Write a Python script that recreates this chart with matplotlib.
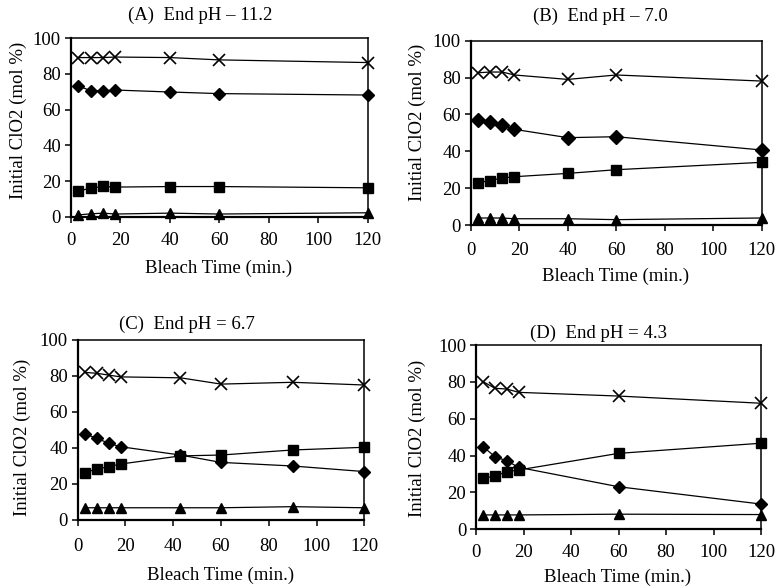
import matplotlib
matplotlib.use("Agg")
import matplotlib.pyplot as plt

plt.rcParams["font.family"] = ["Liberation Serif", "DejaVu Serif"]

# ---- data: ClO2 fate (mol % of initial ClO2) vs bleach time ----
time_a = [3, 8, 13, 18, 40, 60, 120]
cross_a = [89.2, 89.2, 89.2, 89.5, 89.2, 87.9, 86.4]
diamond_a = [73.3, 70.7, 70.5, 71.0, 69.9, 69.0, 68.2]
square_a = [14.4, 15.9, 17.0, 16.6, 16.9, 16.9, 16.2]
triangle_a = [1.0, 1.6, 2.0, 1.5, 2.0, 1.5, 2.2]

time_b = [3, 8, 13, 18, 40, 60, 120]
cross_b = [82.6, 83.0, 83.0, 81.4, 79.0, 81.4, 78.1]
diamond_b = [57.0, 56.1, 54.2, 51.9, 47.4, 47.9, 40.7]
square_b = [23.0, 24.1, 25.5, 26.2, 28.0, 30.0, 34.0]
triangle_b = [3.8, 3.8, 3.8, 3.4, 3.4, 2.9, 3.8]

time_c = [3, 8, 13, 18, 43, 60, 90, 120]
cross_c = [82.0, 81.5, 80.5, 79.5, 79.0, 75.5, 76.5, 75.0]
diamond_c = [47.8, 45.4, 42.6, 40.7, 36.1, 32.0, 30.0, 26.9]
square_c = [26.3, 28.3, 29.6, 31.1, 35.6, 36.1, 38.9, 40.4]
triangle_c = [6.8, 6.8, 6.8, 6.8, 6.8, 6.8, 7.4, 6.8]

time_d = [3, 8, 13, 18, 60, 120]
cross_d = [80.1, 76.5, 76.1, 74.3, 72.3, 68.4]
diamond_d = [44.8, 39.4, 37.1, 33.6, 23.1, 13.7]
square_d = [27.7, 28.9, 31.3, 32.2, 41.2, 46.7]
triangle_d = [7.8, 7.8, 7.8, 7.8, 8.2, 8.0]

titles = ["(A)  End pH \u2013 11.2", "(B)  End pH \u2013 7.0",
          "(C)  End pH = 6.7", "(D)  End pH = 4.3"]
x_ticks = [0, 20, 40, 60, 80, 100, 120]
y_ticks = [0, 20, 40, 60, 80, 100]
x_label = "Bleach Time (min.)"
y_label = "Initial ClO2 (mol %)"

W, H = 776, 588
fig = plt.figure(figsize=(W / 100, H / 100), dpi=100)


def box(l, t, r, b):
    return [l / W, 1 - b / H, (r - l) / W, (b - t) / H]


panels = [
    dict(rect=box(70.7, 38.3, 367.7, 216.7), t=time_a,
         s=(cross_a, diamond_a, square_a, triangle_a),
         title=(200, 15), xl=(219, 268), yl=(18, 120), dsize=6.5, xpad=7.2),
    dict(rect=box(470.7, 40.7, 761.7, 225.0), t=time_b,
         s=(cross_b, diamond_b, square_b, triangle_b),
         title=(600, 16), xl=(616, 276), yl=(417, 122), dsize=7.2, xpad=8.4),
    dict(rect=box(77.7, 340.0, 364.3, 520.0), t=time_c,
         s=(cross_c, diamond_c, square_c, triangle_c),
         title=(187, 324), xl=(221, 575), yl=(22, 437), dsize=6.5, xpad=9.0),
    dict(rect=box(476.0, 345.0, 761.0, 529.3), t=time_d,
         s=(cross_d, diamond_d, square_d, triangle_d),
         title=(598, 333), xl=(618, 577), yl=(417, 438), dsize=6.5, xpad=6.8),
]

FS = 13.5
for i, p in enumerate(panels):
    ax = fig.add_axes(p["rect"])
    t = p["t"]
    cross, diamond, square, triangle = p["s"]
    common = dict(color="black", lw=0.9, clip_on=False, zorder=5)
    ax.plot(t, cross, marker="x", ms=9, mew=1.2, **common)
    ax.plot(t, diamond, marker="D", ms=p["dsize"], mfc="black", mec="black", **common)
    ax.plot(t, square, marker="s", ms=7.5, mfc="black", mec="black", **common)
    ax.plot(t, triangle, marker="^", ms=7.5, mfc="black", mec="black", **common)

    ax.set_xlim(0, 120)
    ax.set_ylim(0, 100)
    ax.set_xticks(x_ticks)
    ax.set_yticks(y_ticks)
    ax.tick_params(axis="both", direction="out", length=4, width=1.1,
                   labelsize=FS, colors="black")
    ax.tick_params(axis="x", pad=p["xpad"])
    ax.tick_params(axis="y", pad=3)
    for sp in ax.spines.values():
        sp.set_linewidth(1.1)
        sp.set_color("black")
    ax.spines["left"].set_linewidth(1.6)
    ax.spines["bottom"].set_linewidth(1.6)

    tx, ty = p["title"]
    fig.text(tx / W, 1 - ty / H, titles[i], ha="center", va="center", fontsize=FS)
    xx, xy = p["xl"]
    fig.text(xx / W, 1 - xy / H, x_label, ha="center", va="center", fontsize=FS)
    yx, yy = p["yl"]
    fig.text(yx / W, 1 - yy / H, y_label, ha="center", va="center",
             rotation=90, fontsize=FS)

fig.savefig("out.png", dpi=100, facecolor="white")
